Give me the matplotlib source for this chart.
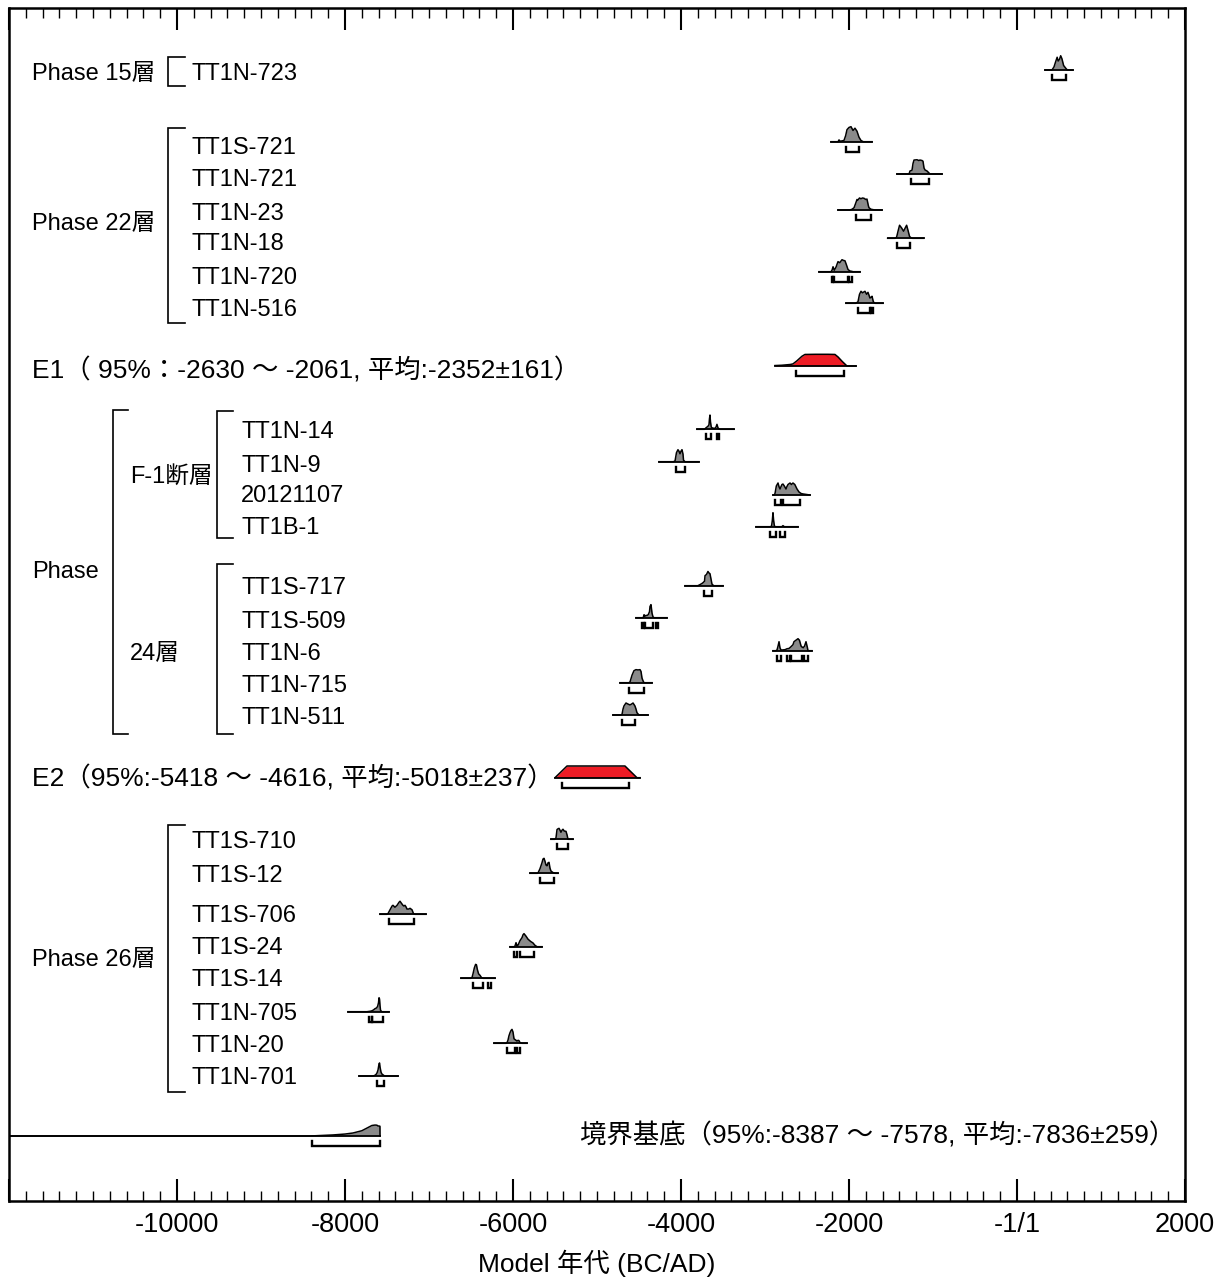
import matplotlib
matplotlib.use('Agg')
import matplotlib.pyplot as plt
from matplotlib import transforms
import numpy as np

plt.rcParams['font.family'] = ['Liberation Sans', 'Noto Sans CJK JP', 'DejaVu Sans']

# ---------------- data ----------------
sample_names = ['TT1N-723',
                'TT1S-721', 'TT1N-721', 'TT1N-23', 'TT1N-18', 'TT1N-720', 'TT1N-516',
                'E1',
                'TT1N-14', 'TT1N-9', '20121107', 'TT1B-1',
                'TT1S-717', 'TT1S-509', 'TT1N-6', 'TT1N-715', 'TT1N-511',
                'E2',
                'TT1S-710', 'TT1S-12', 'TT1S-706', 'TT1S-24', 'TT1S-14', 'TT1N-705', 'TT1N-20', 'TT1N-701',
                'Boundary']

dist_years = [
    [333, 416, 440, 460, 478, 490, 505, 520, 535, 555, 583, 600, 666],
    [-2214, -2130, -2119, -2105, -2060, -2040, -2024, -2000, -1976, -1952, -1929, -1905, -1881, -1857, -1830, -1726],
    [-1429, -1285, -1274, -1250, -1238, -1226, -1190, -1170, -1155, -1131, -1119, -1107, -1095, -1071, -1036, -893],
    [-2131, -1990, -1964, -1940, -1917, -1905, -1893, -1875, -1857, -1840, -1821, -1800, -1786, -1770, -1762, -1738, -1691, -1607],
    [-1540, -1450, -1433, -1415, -1398, -1375, -1350, -1330, -1314, -1296, -1279, -1260, -1243, -1112],
    [-2357, -2215, -2202, -2190, -2175, -2155, -2131, -2110, -2083, -2065, -2048, -2030, -2012, -1990, -1964, -1952, -1869],
    [-2036, -1920, -1893, -1875, -1857, -1840, -1825, -1810, -1790, -1774, -1750, -1738, -1726, -1710, -1691, -1595],
    [-2881, -2800, -2700, -2667, -2619, -2560, -2524, -2400, -2250, -2167, -2130, -2080, -2024, -1917],
    [-3810, -3720, -3702, -3679, -3667, -3661, -3655, -3649, -3640, -3631, -3600, -3583, -3572, -3560, -3548, -3536, -3369],
    [-4262, -4090, -4071, -4054, -4036, -4024, -4012, -4000, -3988, -3976, -3970, -3952, -3786],
    [-2905, -2890, -2881, -2865, -2845, -2833, -2821, -2810, -2798, -2786, -2770, -2750, -2740, -2726, -2702, -2685, -2667, -2645, -2619, -2595, -2570, -2548, -2500, -2464],
    [-3107, -2935, -2922, -2913, -2905, -2897, -2888, -2875, -2800, -2786, -2770, -2607],
    [-3952, -3800, -3774, -3750, -3738, -3720, -3714, -3696, -3679, -3667, -3655, -3643, -3631, -3610, -3500],
    [-4536, -4450, -4440, -4429, -4417, -4405, -4390, -4375, -4369, -4357, -4345, -4333, -4320, -4167],
    [-2905, -2870, -2857, -2845, -2833, -2822, -2810, -2790, -2760, -2738, -2714, -2690, -2667, -2655, -2631, -2607, -2590, -2570, -2560, -2545, -2530, -2512, -2495, -2488, -2441],
    [-4726, -4620, -4607, -4583, -4560, -4536, -4512, -4488, -4476, -4464, -4450, -4440, -4345],
    [-4810, -4715, -4702, -4690, -4679, -4655, -4631, -4607, -4583, -4571, -4548, -4536, -4524, -4500, -4393],
    [-5500, -5357, -5200, -5000, -4800, -4667, -4524, -4488],
    [-5548, -5500, -5488, -5476, -5464, -5452, -5440, -5429, -5417, -5405, -5390, -5369, -5357, -5345, -5286],
    [-5798, -5710, -5700, -5679, -5655, -5643, -5631, -5619, -5607, -5595, -5583, -5571, -5560, -5548, -5524, -5500, -5464],
    [-7583, -7500, -7488, -7464, -7440, -7429, -7405, -7380, -7357, -7345, -7330, -7310, -7298, -7286, -7274, -7262, -7240, -7226, -7214, -7202, -7185, -7167, -7036],
    [-6036, -5985, -5976, -5964, -5952, -5940, -5917, -5893, -5880, -5869, -5845, -5821, -5790, -5762, -5740, -5714, -5655],
    [-6619, -6500, -6488, -6476, -6460, -6445, -6435, -6425, -6410, -6393, -6375, -6357, -6214],
    [-7964, -7740, -7726, -7700, -7679, -7660, -7643, -7625, -7612, -7601, -7595, -7589, -7583, -7577, -7566, -7560, -7476],
    [-6226, -6080, -6071, -6060, -6048, -6036, -6024, -6012, -6000, -5988, -5976, -5964, -5952, -5940, -5929, -5917, -5905, -5893, -5833],
    [-7833, -7670, -7655, -7643, -7631, -7619, -7607, -7595, -7589, -7583, -7571, -7560, -7548, -7536, -7524, -7369],
    [-12000, -8417, -8300, -8143, -8000, -7905, -7800, -7738, -7680, -7643, -7620, -7607, -7590, -7584, -7583],
]

dist_dens = [
    [0, 0, 0.2, 0.55, 0.85, 0.6, 0.7, 0.95, 0.75, 0.3, 0.1, 0, 0],
    [0, 0, 0.12, 0.03, 0.08, 0.4, 0.8, 0.95, 1.0, 0.75, 0.9, 0.7, 0.3, 0.08, 0, 0],
    [0, 0, 0.2, 0.25, 0.7, 0.93, 0.95, 0.9, 0.93, 0.9, 0.85, 0.4, 0.27, 0.2, 0, 0],
    [0, 0, 0.05, 0.15, 0.5, 0.7, 0.67, 0.8, 0.75, 0.8, 0.78, 0.7, 0.73, 0.3, 0.15, 0.05, 0, 0],
    [0, 0, 0.08, 0.5, 0.87, 0.7, 0.47, 0.7, 0.87, 0.5, 0.12, 0.03, 0, 0],
    [0, 0, 0.1, 0.33, 0.1, 0.3, 0.67, 0.6, 0.8, 0.75, 0.73, 0.45, 0.15, 0.05, 0.02, 0, 0],
    [0, 0, 0.1, 0.6, 0.8, 0.7, 0.75, 0.8, 0.6, 0.73, 0.35, 0.4, 0.47, 0.1, 0, 0],
    [0.03, 0.05, 0.1, 0.14, 0.35, 0.65, 0.77, 0.78, 0.78, 0.77, 0.6, 0.3, 0, 0],
    [0, 0, 0.1, 0.2, 0.3, 0.7, 0.95, 0.5, 0.15, 0.1, 0.05, 0.15, 0.33, 0.1, 0.03, 0, 0],
    [0, 0, 0.05, 0.6, 0.8, 0.7, 0.53, 0.7, 0.8, 0.5, 0.1, 0, 0],
    [0, 0, 0.1, 0.6, 0.8, 0.55, 0.4, 0.55, 0.7, 0.73, 0.6, 0.4, 0.55, 0.7, 0.8, 0.7, 0.8, 0.7, 0.4, 0.2, 0.1, 0.07, 0.03, 0],
    [0, 0, 0.05, 0.4, 0.93, 0.4, 0.05, 0, 0, 0.07, 0, 0],
    [0, 0, 0.07, 0.15, 0.2, 0.3, 0.67, 0.75, 0.95, 0.85, 0.8, 0.45, 0.1, 0, 0],
    [0, 0, 0.2, 0.1, 0.15, 0.15, 0.2, 0.4, 0.75, 0.87, 0.3, 0.05, 0, 0],
    [0, 0, 0.05, 0.3, 0.6, 0.2, 0.05, 0.05, 0.07, 0.13, 0.15, 0.27, 0.4, 0.6, 0.7, 0.8, 0.7, 0.3, 0.25, 0.2, 0.3, 0.6, 0.2, 0, 0],
    [0, 0, 0.05, 0.5, 0.8, 0.87, 0.85, 0.87, 0.75, 0.3, 0.1, 0, 0],
    [0, 0, 0.05, 0.4, 0.6, 0.8, 0.73, 0.67, 0.75, 0.8, 0.6, 0.4, 0.15, 0, 0],
    [0, 0.78, 0.78, 0.78, 0.78, 0.78, 0, 0],
    [0, 0, 0.1, 0.65, 0.7, 0.73, 0.6, 0.47, 0.6, 0.67, 0.55, 0.53, 0.3, 0, 0],
    [0, 0, 0.05, 0.3, 0.7, 0.95, 1.0, 0.8, 0.55, 0.5, 0.7, 0.73, 0.35, 0.15, 0.05, 0, 0],
    [0, 0, 0.05, 0.3, 0.55, 0.6, 0.47, 0.6, 0.8, 0.87, 0.75, 0.6, 0.55, 0.6, 0.5, 0.35, 0.35, 0.4, 0.35, 0.3, 0.05, 0, 0],
    [0, 0, 0.05, 0.27, 0.05, 0.1, 0.4, 0.6, 0.8, 0.87, 0.7, 0.5, 0.35, 0.25, 0.1, 0, 0],
    [0, 0, 0.05, 0.3, 0.7, 0.93, 0.9, 0.6, 0.3, 0.2, 0.05, 0, 0],
    [0, 0, 0.01, 0.03, 0.06, 0.12, 0.2, 0.25, 0.35, 0.6, 0.93, 0.85, 0.4, 0.1, 0.02, 0, 0],
    [0, 0, 0.05, 0.2, 0.5, 0.7, 0.85, 0.93, 0.75, 0.3, 0.25, 0.2, 0.15, 0.2, 0.18, 0.05, 0.02, 0, 0],
    [0, 0, 0.02, 0.05, 0.1, 0.2, 0.4, 0.8, 0.87, 0.6, 0.25, 0.13, 0.08, 0.03, 0, 0],
    [0, 0, 0.03, 0.07, 0.13, 0.2, 0.35, 0.53, 0.7, 0.73, 0.72, 0.67, 0.66, 0.65, 0],
]

hpd_ranges = [
    [(416, 583)],
    [(-2040, -1879)],
    [(-1262, -1048)],
    [(-1917, -1738)],
    [(-1433, -1279)],
    [(-2205, -2185), (-2175, -2010), (-2000, -1964)],
    [(-1893, -1745), (-1738, -1715)],
    [(-2630, -2061)],
    [(-3702, -3643), (-3572, -3548)],
    [(-4054, -3952)],
    [(-2881, -2810), (-2786, -2583)],
    [(-2940, -2869), (-2822, -2762)],
    [(-3726, -3631)],
    [(-4464, -4440), (-4430, -4330), (-4300, -4270)],
    [(-2857, -2810), (-2738, -2700), (-2690, -2560), (-2536, -2488)],
    [(-4619, -4440)],
    [(-4702, -4545)],
    [(-5418, -4616)],
    [(-5476, -5345)],
    [(-5679, -5512)],
    [(-7476, -7179)],
    [(-5988, -5955), (-5917, -5750)],
    [(-6480, -6357), (-6298, -6262)],
    [(-7714, -7680), (-7675, -7545)],
    [(-6071, -5976), (-5952, -5917)],
    [(-7615, -7530)],
    [(-8387, -7578)],
]

e1_text = 'E1（ 95%：-2630 ～ -2061, 平均:-2352±161）'
e2_text = 'E2（95%:-5418 ～ -4616, 平均:-5018±237）'
bnd_text = '境界基底（95%:-8387 ～ -7578, 平均:-7836±259）'

tick_values = [-12000, -10000, -8000, -6000, -4000, -2000, 0, 2000]
tick_labels = ['', '-10000', '-8000', '-6000', '-4000', '-2000', '-1/1', '2000']

# ---------------- layout (pixel rows, top = 8, bottom = 1201) ----------------
baselines = [70, 141.7, 174, 210, 238.3, 271.7, 303.3, 366,
             429.3, 461.7, 495, 526.7, 585.7, 617.7, 650.7, 682.7, 715, 777.7,
             839.3, 873.3, 914.3, 946.7, 978.3, 1011.7, 1043.3, 1076, 1136]
label_y = [72, 145, 178, 211, 242, 275, 308, 368,
           429, 463, 494, 526, 586, 619, 651, 684, 716, 776,
           840, 873, 913, 946, 978, 1011, 1043, 1076, 1133]
label_x = [192, 192, 192, 192, 192, 192, 192, 32,
           241, 241, 241, 241, 241, 241, 241, 241, 241, 32,
           192, 192, 192, 192, 192, 192, 192, 192, 580]

W, H = 1228, 1279
fig = plt.figure(figsize=(W / 100, H / 100), dpi=100)
ax_l, ax_r, ax_t, ax_b = 9, 1185, 8, 1201
ax = fig.add_axes([ax_l / W, 1 - ax_b / H, (ax_r - ax_l) / W, (ax_b - ax_t) / H])
ax.set_xlim(-12000, 2000)
ax.set_ylim(ax_b, ax_t)

blend = transforms.blended_transform_factory(ax.transAxes, ax.transData)


def axx(px):
    return (px - ax_l) / (ax_r - ax_l)


HSCALE = 15.0
OFF = 10.0
TK = 5.0
grey = '#8a8a8a'
red = '#ee1c25'

for i, name in enumerate(sample_names):
    yrs = np.array(dist_years[i], dtype=float)
    d = np.array(dist_dens[i], dtype=float) * HSCALE
    b = baselines[i]
    fc = red if name in ('E1', 'E2') else grey
    ax.fill_between(yrs, b, b - d, color=fc, lw=0, zorder=2)
    ax.plot(yrs, b - d, color='black', lw=1.1, zorder=3, solid_joinstyle='round')
    ax.plot([yrs[0], yrs[-1]], [b, b], color='black', lw=1.3, zorder=3)
    for lo, hi in hpd_ranges[i]:
        ax.plot([lo, lo, hi, hi], [b + OFF - TK, b + OFF, b + OFF, b + OFF - TK],
                color='black', lw=1.7, zorder=3, solid_joinstyle='miter')

FS = 17
FS_EV = 19
for i, name in enumerate(sample_names):
    fs = FS
    if name == 'E1':
        txt, fs = e1_text, FS_EV
    elif name == 'E2':
        txt, fs = e2_text, FS_EV
    elif name == 'Boundary':
        txt, fs = bnd_text, FS_EV
    else:
        txt = name
    ax.text(axx(label_x[i]), label_y[i], txt, transform=blend, fontsize=fs,
            ha='left', va='center_baseline', color='black')

# group labels
groups = [('Phase 15層', 32, 72), ('Phase 22層', 32, 221), ('Phase', 32, 570),
          ('F-1断層', 130, 474), ('24層', 130, 651), ('Phase 26層', 32, 957)]
for txt, gx, gy in groups:
    ax.text(axx(gx), gy, txt, transform=blend, fontsize=FS, ha='left',
            va='center_baseline', color='black')

# brackets (x_vertical, x_end, y_top, y_bottom)
brackets = [(168, 185, 57, 86), (168, 185, 128, 323), (113, 128, 410, 734),
            (217, 233, 411, 538), (217, 233, 564, 734), (168, 185, 825, 1092)]
for xv, xe, yt, yb in brackets:
    ax.plot([axx(xe), axx(xv), axx(xv), axx(xe)], [yt, yt, yb, yb], transform=blend,
            color='black', lw=1.2, solid_joinstyle='miter')

# axes styling
for s in ax.spines.values():
    s.set_linewidth(1.8)
ax.set_yticks([])
ax.set_xticks(tick_values)
ax.set_xticklabels(tick_labels)
ax.set_xticks(np.arange(-12000, 2001, 200), minor=True)
ax.tick_params(axis='x', which='major', direction='in', top=True, bottom=True,
               length=16, width=1.5, labelsize=19.5, pad=8)
ax.tick_params(axis='x', which='minor', direction='in', top=True, bottom=True,
               length=7.5, width=1.0)
ax.set_xlabel('Model 年代 (BC/AD)', fontsize=19, labelpad=8)

fig.savefig('out.png', dpi=100)
